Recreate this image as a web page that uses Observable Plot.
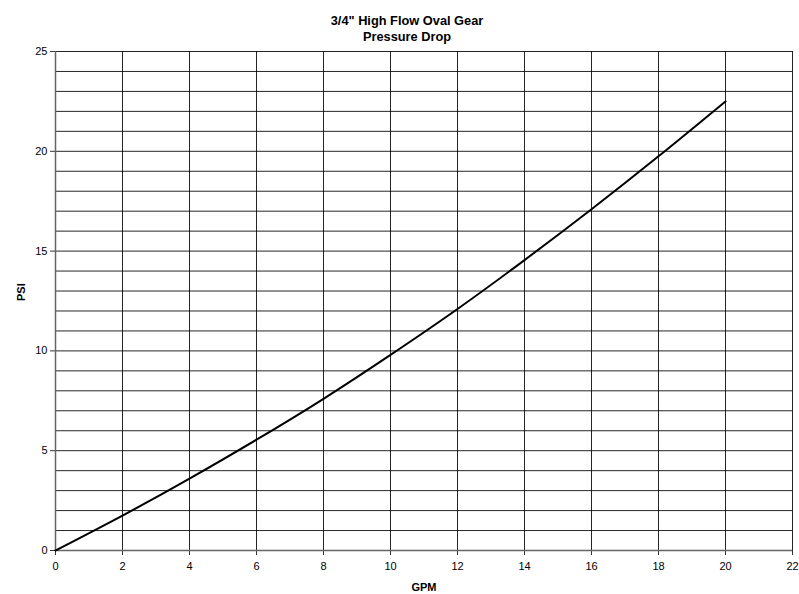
<!DOCTYPE html>
<html>
<head>
<meta charset="utf-8">
<script src="https://cdn.jsdelivr.net/npm/d3@7"></script>
<script src="https://cdn.jsdelivr.net/npm/@observablehq/plot@0.6"></script>
<style>
  html, body { margin: 0; padding: 0; background: #fff; }
  svg { display: block; }
</style>
</head>
<body>
<div id="chart"></div>
<script>
const gpm = [0, 2, 4, 6, 8, 10, 12, 14, 16, 18, 20];
const psi = [0, 1.75, 3.6, 5.55, 7.6, 9.8, 12.1, 14.55, 17.1, 19.75, 22.5];
const xTicks = [0, 2, 4, 6, 8, 10, 12, 14, 16, 18, 20, 22];
const yTicks = [0, 5, 10, 15, 20, 25];
const yGrid = d3.range(0, 26, 1);
const titleLines = ["3/4\" High Flow Oval Gear", "Pressure Drop"];

const data = gpm.map((g, i) => ({gpm: g, psi: psi[i]}));
const font = "Liberation Sans, Arial, sans-serif";

const chart = Plot.plot({
  width: 799,
  height: 594,
  marginLeft: 55,
  marginRight: 7,
  marginTop: 51,
  marginBottom: 44,
  style: {fontFamily: font, fontSize: "11px", color: "#000", background: "#fff"},
  x: {domain: [0, 22], label: null},
  y: {domain: [0, 25], label: null},
  marks: [
    Plot.ruleY(yGrid, {stroke: "#000", strokeWidth: 1, strokeOpacity: 0.85}),
    Plot.ruleX(xTicks, {stroke: "#000", strokeWidth: 1, strokeOpacity: 0.85}),
    Plot.axisX({ticks: xTicks, tickSize: 5, tickPadding: 7, tickFormat: d => d, fontSize: 11, stroke: "#333"}),
    Plot.axisY({ticks: yTicks, tickSize: 5, tickPadding: 3, tickFormat: d => d, fontSize: 11, stroke: "#333"}),
    Plot.ruleX([0], {stroke: "#666", strokeWidth: 1.5}),
    Plot.ruleY([0], {stroke: "#666", strokeWidth: 1.5}),
    Plot.line(data, {x: "gpm", y: "psi", curve: "natural", stroke: "#000", strokeWidth: 2}),
    Plot.text([titleLines[0]], {frameAnchor: "top", dx: -17, dy: -36, fontWeight: "bold", fontSize: 12.8, fill: "#000"}),
    Plot.text([titleLines[1]], {frameAnchor: "top", dx: -17, dy: -19.5, fontWeight: "bold", fontSize: 12.8, fill: "#000"}),
    Plot.text(["GPM"], {frameAnchor: "bottom", dy: 40, fontWeight: "bold", fontSize: 11, fill: "#000"}),
    Plot.text(["PSI"], {frameAnchor: "left", dx: -34, rotate: -90, fontWeight: "bold", fontSize: 11, fill: "#000"})
  ]
});
document.getElementById("chart").appendChild(chart);
</script>
</body>
</html>
